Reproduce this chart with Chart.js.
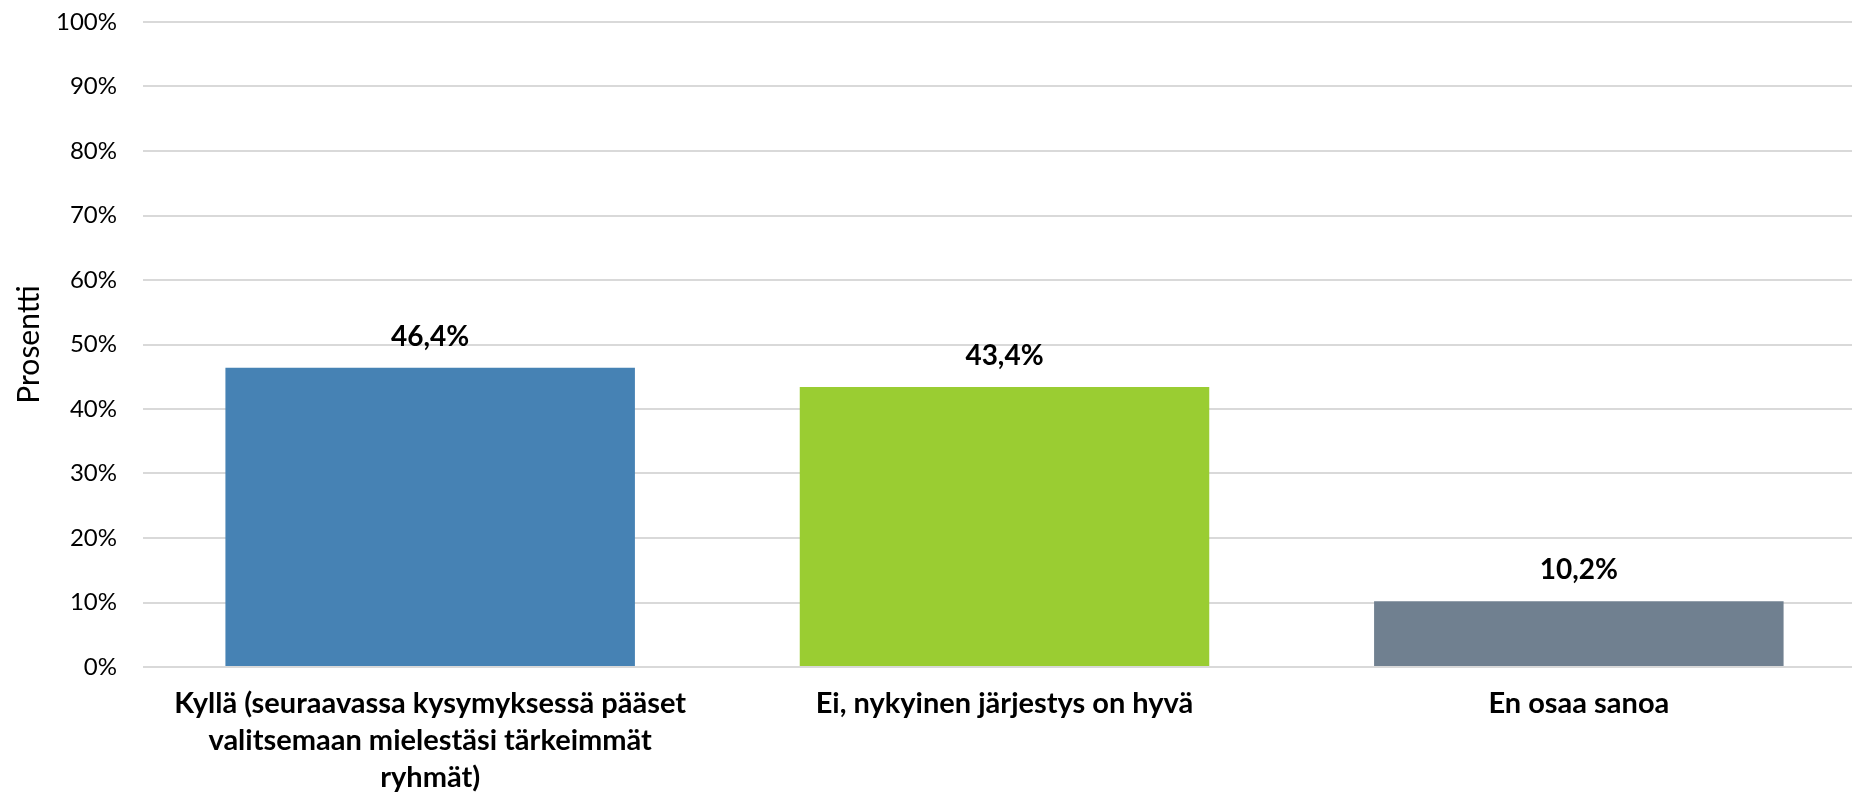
<!DOCTYPE html>
<html>
<head>
<meta charset="utf-8">
<script src="https://cdn.jsdelivr.net/npm/chart.js@4/dist/chart.umd.min.js"></script>
<style>
  html, body { margin: 0; padding: 0; background: #fff; overflow: hidden; }
  #wrap { width: 1868px; height: 801px; }
</style>
</head>
<body>
<div id="wrap"><canvas id="chart" width="1868" height="801"></canvas></div>
<script>
const categories = [
  ['Kyllä (seuraavassa kysymyksessä pääset', 'valitsemaan mielestäsi tärkeimmät', 'ryhmät)'],
  ['Ei, nykyinen järjestys on hyvä'],
  ['En osaa sanoa'],
];
const values = [46.4, 43.4, 10.2];
const yTicks = [0, 10, 20, 30, 40, 50, 60, 70, 80, 90, 100];
const barColors = ['#4682b4', '#9acd32', '#708090'];

const FONT = 'Lato, "Open Sans", sans-serif';
const fmt = (v) => v.toFixed(1).replace('.', ',') + '%';

// arvot pylväiden päälle
const valueLabels = {
  id: 'valueLabels',
  afterDatasetsDraw(chart) {
    const { ctx } = chart;
    const meta = chart.getDatasetMeta(0);
    ctx.save();
    ctx.font = `bold 28px ${FONT}`;
    ctx.fillStyle = '#000';
    ctx.textAlign = 'center';
    ctx.textBaseline = 'middle';
    meta.data.forEach((bar, i) => {
      ctx.fillText(fmt(values[i]), bar.x, bar.y - 31);
    });
    ctx.restore();
  },
};

new Chart(document.getElementById('chart'), {
  type: 'bar',
  data: {
    labels: categories,
    datasets: [{
      data: values,
      backgroundColor: barColors,
      borderWidth: 0,
      barPercentage: 0.713,
      categoryPercentage: 1,
    }],
  },
  options: {
    responsive: false,
    animation: false,
    events: [],
    layout: { padding: { top: 22, right: 2, left: 0, bottom: 0 } },
    plugins: { legend: { display: false }, tooltip: { enabled: false } },
    scales: {
      x: {
        grid: { display: false },
        border: { display: false },
        ticks: {
          color: '#000',
          font: { family: FONT, size: 29, weight: 'bold', lineHeight: 1.28 },
          padding: 10,
          maxRotation: 0,
          autoSkip: false,
        },
        afterFit: (s) => { s.height = 134; },
      },
      y: {
        min: 0,
        max: 100,
        afterBuildTicks: (s) => { s.ticks = yTicks.map(v => ({ value: v })); },
        grid: { color: '#d9d9d9', lineWidth: 2, drawTicks: false },
        border: { display: false },
        ticks: {
          color: '#000',
          font: { family: FONT, size: 24 },
          padding: 26,
          callback: (v) => v + '%',
        },
        title: {
          display: true,
          text: 'Prosentti',
          color: '#000',
          font: { family: FONT, size: 30 },
          padding: { top: 11, bottom: 0 },
        },
        afterFit: (s) => { s.width = 143; s.paddingTop = 0; },
      },
    },
  },
  plugins: [valueLabels],
});
</script>
</body>
</html>
